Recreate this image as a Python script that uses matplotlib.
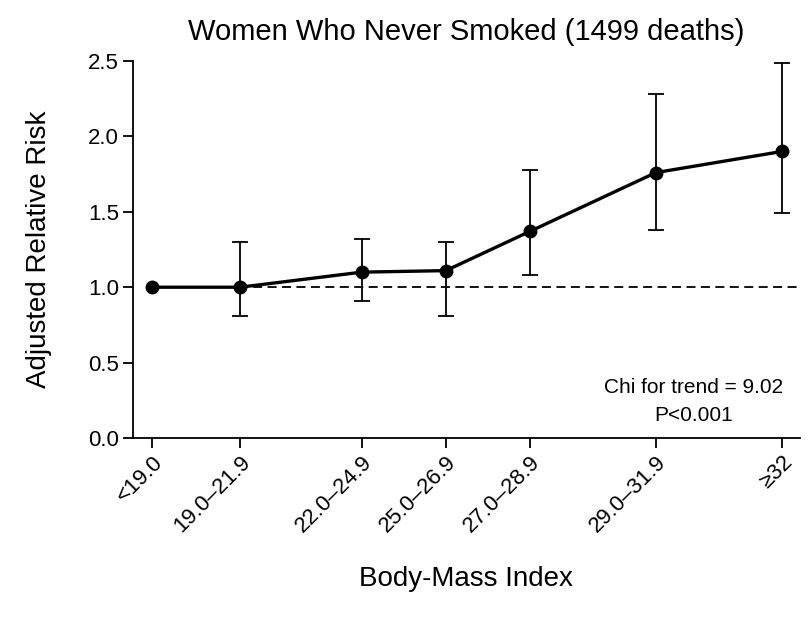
import matplotlib
matplotlib.use("Agg")
import matplotlib.pyplot as plt

# BMI categories and their plotting positions (category centres)
categories = ["<19.0", "19.0\u201321.9", "22.0\u201324.9", "25.0\u201326.9",
              "27.0\u201328.9", "29.0\u201331.9", "\u226532"]
bmi_pos = [18.0, 20.1, 23.0, 25.0, 27.0, 30.0, 33.0]

# Adjusted relative risk and 95% CI
rr = [1.00, 1.00, 1.10, 1.11, 1.37, 1.76, 1.90]
ci_low = [1.00, 0.81, 0.91, 0.81, 1.08, 1.38, 1.49]
ci_high = [1.00, 1.30, 1.32, 1.30, 1.78, 2.28, 2.49]

y_ticks = [0.0, 0.5, 1.0, 1.5, 2.0, 2.5]

plt.rcParams["font.family"] = ["Liberation Sans", "DejaVu Sans"]

fig = plt.figure(figsize=(8.12, 6.22), dpi=100)
ax = fig.add_axes([0.1638, 0.2958, 0.8212, 0.6061])

# reference line at RR = 1
ax.hlines(1.0, bmi_pos[0], 33.43, colors="black", linestyles=(0, (5, 3)), linewidth=1.3, zorder=1)

# error bars (skip reference category)
err_lo = [r - lo for r, lo in zip(rr, ci_low)]
err_hi = [hi - r for r, hi in zip(rr, ci_high)]
ax.errorbar(bmi_pos[1:], rr[1:], yerr=[err_lo[1:], err_hi[1:]], fmt="none",
            ecolor="black", elinewidth=1.3, capsize=5.5, capthick=1.3, zorder=2)

ax.plot(bmi_pos, rr, color="black", linewidth=2.4, marker="o", markersize=9, zorder=3)

ax.set_xlim(17.55, 33.43)
ax.set_ylim(0, 2.5)
ax.set_yticks(y_ticks)
ax.set_yticklabels([f"{v:.1f}" for v in y_ticks], fontsize=16)
ax.set_xticks(bmi_pos)
ax.set_xticklabels(categories, rotation=45, ha="right", rotation_mode="anchor", fontsize=16)

for side in ["top", "right"]:
    ax.spines[side].set_visible(False)
for side in ["left", "bottom"]:
    ax.spines[side].set_linewidth(1.3)
ax.tick_params(axis="both", length=7, width=1.3, direction="out")
ax.tick_params(axis="y", pad=3)
ax.tick_params(axis="x", pad=3)

ax.set_title("Women Who Never Smoked (1499 deaths)", fontsize=21, pad=15)
ax.set_ylabel("Adjusted Relative Risk", fontsize=20, labelpad=26)
ax.set_xlabel("Body-Mass Index", fontsize=20, labelpad=21)

ax.text(30.9, 0.245, "Chi for trend = 9.02\nP<0.001", fontsize=15,
        ha="center", va="center", linespacing=1.6)

fig.savefig("out.png", dpi=100)
